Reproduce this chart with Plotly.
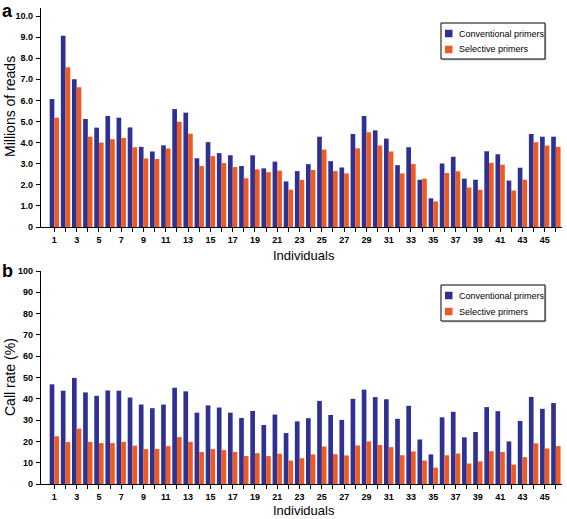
import plotly.graph_objects as go

individuals = list(range(1, 47))

reads_conventional = [6.07, 9.07, 7.00, 5.12, 4.71, 5.26, 5.18, 4.72, 3.80, 3.58,
                      3.87, 5.59, 5.42, 3.26, 4.02, 3.50, 3.40, 2.89, 3.40, 2.78,
                      3.10, 2.16, 2.65, 2.98, 4.28, 3.12, 2.82, 4.41, 5.26, 4.58,
                      4.19, 2.93, 3.78, 2.24, 1.36, 3.01, 3.33, 2.29, 2.24, 3.59,
                      3.45, 2.20, 2.81, 4.41, 4.28, 4.28]
reads_selective = [5.18, 7.57, 6.62, 4.28, 4.00, 4.16, 4.22, 3.78, 3.25, 3.22,
                   3.72, 4.99, 4.42, 2.89, 3.36, 3.03, 2.84, 2.31, 2.73, 2.60,
                   2.67, 1.77, 2.23, 2.70, 3.67, 2.65, 2.54, 3.73, 4.49, 3.86,
                   3.58, 2.54, 2.98, 2.29, 1.21, 2.56, 2.64, 1.87, 1.76, 3.04,
                   2.95, 1.73, 2.24, 4.02, 3.86, 3.80]

call_conventional = [46.8, 43.8, 49.8, 43.0, 41.4, 43.9, 43.8, 40.6, 37.3, 35.6,
                     37.3, 45.2, 43.5, 33.5, 36.9, 35.9, 33.5, 31.0, 34.3, 27.7,
                     32.6, 23.9, 29.4, 30.9, 39.0, 32.4, 30.1, 40.0, 44.3, 40.8,
                     39.8, 30.6, 36.7, 20.9, 13.9, 31.3, 33.9, 21.9, 24.4, 36.1,
                     34.2, 20.0, 29.6, 40.9, 35.3, 38.0]
call_selective = [22.4, 19.7, 26.0, 19.8, 19.2, 19.2, 19.8, 18.0, 16.4, 16.5,
                  17.8, 22.0, 19.8, 15.0, 16.4, 15.9, 15.0, 13.1, 14.5, 13.1,
                  14.2, 11.0, 12.1, 13.9, 17.6, 14.0, 13.4, 18.1, 20.0, 18.3,
                  17.3, 13.5, 15.3, 11.0, 7.7, 13.5, 14.3, 9.6, 10.6, 15.4,
                  15.0, 9.1, 12.6, 19.1, 16.7, 17.8]

series_names = ["Conventional primers", "Selective primers"]
reads_ticks = [0, 1, 2, 3, 4, 5, 6, 7, 8, 9, 10]
reads_ticktext = ["0", "1.0", "2.0", "3.0", "4.0", "5.0", "6.0", "7.0", "8.0", "9.0", "10.0"]
call_ticks = [0, 10, 20, 30, 40, 50, 60, 70, 80, 90, 100]
x_ticktext = [str(i) if i % 2 == 1 else "" for i in individuals]

BLUE = "#2E3192"
ORANGE = "#EF5A22"
COLORS = [BLUE, ORANGE]
FONT = "Liberation Sans"

W, H = 567, 519
ML, MR = 41, 5
PW = W - ML - MR


def px(x):
    return (x - ML) / PW


def py(y):
    return 1 - y / H


fig = go.Figure()

fig.add_trace(go.Bar(x=individuals, y=reads_conventional, name=series_names[0],
                     marker=dict(color=BLUE, line=dict(width=0)), xaxis="x", yaxis="y",
                     offsetgroup="a"))
fig.add_trace(go.Bar(x=individuals, y=reads_selective, name=series_names[1],
                     marker=dict(color=ORANGE, line=dict(width=0)), xaxis="x", yaxis="y",
                     offsetgroup="b"))
fig.add_trace(go.Bar(x=individuals, y=call_conventional, name=series_names[0],
                     marker=dict(color=BLUE, line=dict(width=0)), xaxis="x2", yaxis="y2",
                     offsetgroup="a"))
fig.add_trace(go.Bar(x=individuals, y=call_selective, name=series_names[1],
                     marker=dict(color=ORANGE, line=dict(width=0)), xaxis="x2", yaxis="y2",
                     offsetgroup="b"))

tickfont = dict(family=FONT, size=9, color="black", weight="bold")

xaxis_common = dict(
    range=[-0.2, 46.55], tickmode="array", tickvals=individuals, ticktext=x_ticktext,
    ticks="outside", ticklen=4, tickwidth=1, tickcolor="black",
    showline=True, linecolor="black", linewidth=1.2, showgrid=False, zeroline=False,
    tickfont=tickfont, automargin=False,
)
yaxis_common = dict(
    ticks="outside", ticklen=4, tickwidth=1, tickcolor="black",
    showline=True, linecolor="black", linewidth=1.2, showgrid=False, zeroline=False,
    tickfont=tickfont, ticklabelstandoff=1, automargin=False,
)

fig.update_layout(
    width=W, height=H,
    margin=dict(l=ML, r=MR, t=0, b=0),
    paper_bgcolor="white", plot_bgcolor="white",
    barmode="group", bargap=0.16, bargroupgap=0.0,
    font=dict(family=FONT, color="black"),
    showlegend=False,
    xaxis=dict(**xaxis_common, domain=[0, 1], anchor="y"),
    yaxis=dict(**yaxis_common, domain=[py(227), py(8)], range=[0, 10.38],
               tickmode="array", tickvals=reads_ticks, ticktext=reads_ticktext, anchor="x"),
    xaxis2=dict(**xaxis_common, domain=[0, 1], anchor="y2"),
    yaxis2=dict(**yaxis_common, domain=[py(484), py(271)], range=[0, 100],
                tickmode="array", tickvals=call_ticks, anchor="x2"),
)

annotations = [
    dict(text="a", x=px(0), y=py(-1), xanchor="left", yanchor="top",
         font=dict(family=FONT, size=18, weight="bold")),
    dict(text="b", x=px(0), y=py(259), xanchor="left", yanchor="top",
         font=dict(family=FONT, size=18, weight="bold")),
    dict(text="Millions of reads", x=px(10), y=py(107), xanchor="center", yanchor="middle",
         textangle=-90, font=dict(family=FONT, size=14)),
    dict(text="Call rate (%)", x=px(10), y=py(377), xanchor="center", yanchor="middle",
         textangle=-90, font=dict(family=FONT, size=14)),
    dict(text="Individuals", x=px(304), y=py(255), xanchor="center", yanchor="middle",
         font=dict(family=FONT, size=13)),
    dict(text="Individuals", x=px(304), y=py(510), xanchor="center", yanchor="middle",
         font=dict(family=FONT, size=13)),
]
shapes = []

# manual legends (one per panel)
for top in (23, 285):
    left, right, bottom = 441, 545, top + 36
    shapes.append(dict(type="rect", xref="paper", yref="paper",
                       x0=px(left + 1.5), x1=px(right + 1.5), y0=py(bottom + 1.5), y1=py(top + 1.5),
                       line=dict(width=0), fillcolor="#d0d0d0", layer="above"))
    shapes.append(dict(type="rect", xref="paper", yref="paper",
                       x0=px(left), x1=px(right), y0=py(bottom), y1=py(top),
                       line=dict(color="black", width=1), fillcolor="white", layer="above"))
    for i, (name, col) in enumerate(zip(series_names, COLORS)):
        cy = top + 10.5 + i * 16
        shapes.append(dict(type="rect", xref="paper", yref="paper",
                           x0=px(445), x1=px(452.5), y0=py(cy + 3.75), y1=py(cy - 3.75),
                           line=dict(width=0), fillcolor=col, layer="above"))
        annotations.append(dict(text=name, x=px(457), y=py(cy), xanchor="left", yanchor="middle",
                                font=dict(family=FONT, size=9)))

for a in annotations:
    a.setdefault("xref", "paper")
    a.setdefault("yref", "paper")
    a.setdefault("showarrow", False)

fig.update_layout(annotations=annotations, shapes=shapes)

fig.write_html("out.html", config={"displayModeBar": False},
               post_script="document.body.style.margin='0';document.body.style.padding='0';")
